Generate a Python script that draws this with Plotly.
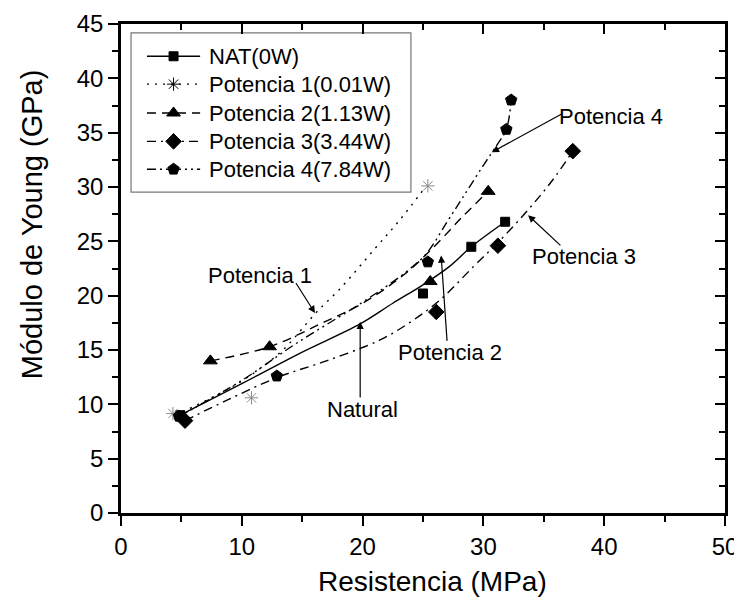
import plotly.graph_objects as go

nat_x = [4.9, 25.0, 29.0, 31.8]
nat_y = [9.0, 20.2, 24.5, 26.8]
p1_x = [4.3, 10.8, 25.4]
p1_y = [9.15, 10.6, 30.1]
p2_x = [7.4, 12.3, 25.6, 30.4]
p2_y = [14.0, 15.3, 21.3, 29.6]
p3_x = [5.3, 26.1, 31.2, 37.4]
p3_y = [8.5, 18.5, 24.6, 33.3]
p4_x = [4.8, 12.9, 25.4, 31.9, 32.3]
p4_y = [8.9, 12.6, 23.1, 35.3, 38.0]

# ---- fitted curves ----
nat_fit_x = [4.9, 10.0, 14.8, 19.8, 22.5, 25.0, 27.2, 29.0, 31.8]
nat_fit_y = [9.0, 11.9, 14.7, 17.4, 19.3, 21.0, 22.7, 24.5, 26.8]
p1_fit_x = [4.5, 8.0, 10.5, 13.4, 16.2, 18.1, 21.0, 23.1, 25.2]
p1_fit_y = [9.0, 10.9, 12.5, 15.0, 18.5, 20.6, 24.3, 27.0, 30.0]
p2_fit_x = [7.4, 12.3, 16.5, 20.0, 23.5, 26.0, 28.3, 30.4]
p2_fit_y = [14.0, 15.3, 17.4, 19.3, 22.0, 24.6, 27.3, 29.6]
p3_fit_x = [5.3, 9.0, 13.0, 17.0, 21.4, 24.0, 26.4, 29.2, 31.3, 33.7, 35.7, 37.4]
p3_fit_y = [8.5, 10.5, 12.5, 14.0, 15.9, 17.6, 19.6, 22.7, 25.0, 27.9, 30.6, 33.3]
p4_fit_x = [4.8, 10.0, 14.5, 20.0, 23.5, 25.3, 27.0, 28.5, 30.0, 31.2, 31.9, 32.3]
p4_fit_y = [8.9, 12.2, 15.6, 19.4, 22.1, 23.9, 26.8, 29.4, 32.0, 34.0, 35.3, 38.0]

names = ["NAT(0W)", "Potencia 1(0.01W)", "Potencia 2(1.13W)",
         "Potencia 3(3.44W)", "Potencia 4(7.84W)"]

x_ticks = [0, 10, 20, 30, 40, 50]
y_ticks = [0, 5, 10, 15, 20, 25, 30, 35, 40, 45]

FONT = "Liberation Sans, Arial, sans-serif"

series = [
    (nat_x, nat_y, nat_fit_x, nat_fit_y, "solid", "square", 9, "black"),
    (p1_x, p1_y, p1_fit_x, p1_fit_y, "2px,6px", "asterisk-open", 11, "#8a8a8a"),
    (p2_x, p2_y, p2_fit_x, p2_fit_y, "9px,6px", "triangle-up", 12, "black"),
    (p3_x, p3_y, p3_fit_x, p3_fit_y, "9px,5px,2px,5px", "diamond", 12, "black"),
    (p4_x, p4_y, p4_fit_x, p4_fit_y, "9px,4px,2px,4px,2px,4px", "pentagon", 12, "black"),
]

# legend box layout (fractions of the plot area)
LEG_X0, LEG_X1, LEG_Y0, LEG_Y1 = 0.0166, 0.480, 0.656, 0.982
leg_row_y = [0.934, 0.877, 0.818, 0.760, 0.703]

fig = go.Figure()
for (px, py, fx, fy, dash, sym, size, mcol) in series:
    fig.add_trace(go.Scatter(x=fx, y=fy, mode="lines", line_shape="spline",
                             line=dict(color="black", width=1.4, dash=dash),
                             showlegend=False, hoverinfo="skip"))
    fig.add_trace(go.Scatter(x=px, y=py, mode="markers",
                             marker=dict(symbol=sym, size=size, color=mcol,
                                         line=dict(color=mcol, width=1)),
                             showlegend=False))

# manual legend drawn on an overlay axis measured in plot-area fractions
for (px, py, fx, fy, dash, sym, size, mcol), name, ry in zip(series, names, leg_row_y):
    fig.add_trace(go.Scatter(x=[0.043, 0.131], y=[ry, ry], mode="lines",
                             line=dict(color="black", width=1.4, dash=dash),
                             xaxis="x3", yaxis="y3", showlegend=False, hoverinfo="skip"))
    fig.add_trace(go.Scatter(x=[0.087], y=[ry], mode="markers",
                             marker=dict(symbol=sym, size=size, color="black",
                                         line=dict(color="black", width=1)),
                             xaxis="x3", yaxis="y3", showlegend=False, hoverinfo="skip"))
    fig.add_annotation(text=name, x=0.142, y=ry, xref="x3", yref="y3",
                       xanchor="left", yanchor="middle", showarrow=False,
                       font=dict(size=22, family=FONT))

# dummy trace to activate the mirrored (top/right) axes
fig.add_trace(go.Scatter(x=[None], y=[None], xaxis="x2", yaxis="y2",
                         showlegend=False, hoverinfo="skip"))

axis_common = dict(showgrid=False, zeroline=False, showline=True,
                   linecolor="black", linewidth=2.5, tickcolor="black",
                   tickwidth=2, ticklen=10, automargin=False)

# page body has an 8px default margin, so the figure is 8px smaller
fig.update_layout(
    width=734, height=594,
    margin=dict(l=113, r=17, t=16, b=89, autoexpand=False),
    paper_bgcolor="white", plot_bgcolor="white",
    font=dict(family=FONT, color="black"),
    showlegend=False,
    xaxis=dict(range=[0, 50], tickvals=x_ticks, ticks="outside",
               minor=dict(dtick=5, ticks="outside", ticklen=6, tickwidth=2, tickcolor="black"),
               tickfont=dict(size=24, family=FONT), **axis_common),
    yaxis=dict(range=[0, 45], tickvals=y_ticks, ticks="outside",
               minor=dict(dtick=2.5, ticks="outside", ticklen=6, tickwidth=2, tickcolor="black"),
               tickfont=dict(size=24, family=FONT), **axis_common),
    xaxis2=dict(range=[0, 50], overlaying="x", side="top", anchor="y2",
                tickvals=x_ticks, ticks="inside", showticklabels=False,
                minor=dict(dtick=5, ticks="inside", ticklen=6, tickwidth=2, tickcolor="black"),
                **axis_common),
    yaxis2=dict(range=[0, 45], overlaying="y", side="right", anchor="x2",
                tickvals=y_ticks, ticks="inside", showticklabels=False,
                minor=dict(dtick=2.5, ticks="inside", ticklen=6, tickwidth=2, tickcolor="black"),
                **axis_common),
    xaxis3=dict(range=[0, 1], overlaying="x", anchor="y3", visible=False),
    yaxis3=dict(range=[0, 1], overlaying="y", anchor="x3", visible=False),
)

# legend frame
fig.add_shape(type="rect", xref="paper", yref="paper",
              x0=LEG_X0, x1=LEG_X1, y0=LEG_Y0, y1=LEG_Y1,
              line=dict(color="#777", width=1.2), fillcolor="rgba(0,0,0,0)", layer="below")

# axis titles
fig.add_annotation(text="Resistencia (MPa)", xref="paper", yref="paper",
                   x=0.516, y=-0.141, xanchor="center", yanchor="middle",
                   showarrow=False, font=dict(size=28, family=FONT))
fig.add_annotation(text="Módulo de Young (GPa)", xref="paper", yref="paper",
                   x=-0.147, y=0.591, xanchor="center", yanchor="middle",
                   showarrow=False, textangle=-90, font=dict(size=29, family=FONT))

# callout labels
label_text = ["Potencia 4", "Potencia 3", "Potencia 2", "Natural", "Potencia 1"]
label_x = [40.6, 38.3, 27.2, 20.0, 11.5]
label_y = [36.5, 23.6, 14.8, 9.55, 21.9]
arrow_tail_x = [36.6, 36.5, 27.0, 19.8, 14.4]
arrow_tail_y = [36.8, 24.5, 15.7, 10.5, 21.3]
arrow_tip_x = [30.7, 33.7, 26.5, 19.8, 16.06]
arrow_tip_y = [33.2, 27.4, 23.7, 17.6, 18.4]

for t, lx, ly in zip(label_text, label_x, label_y):
    fig.add_annotation(text=t, x=lx, y=ly, xref="x", yref="y", showarrow=False,
                       xanchor="center", yanchor="middle",
                       font=dict(size=22, family=FONT))
for ax_, ay_, tx, ty in zip(arrow_tail_x, arrow_tail_y, arrow_tip_x, arrow_tip_y):
    fig.add_annotation(text="", x=tx, y=ty, xref="x", yref="y",
                       ax=ax_, ay=ay_, axref="x", ayref="y",
                       showarrow=True, arrowhead=2, arrowsize=1.2, arrowwidth=1.2,
                       arrowcolor="black")

fig.write_html("out.html")
